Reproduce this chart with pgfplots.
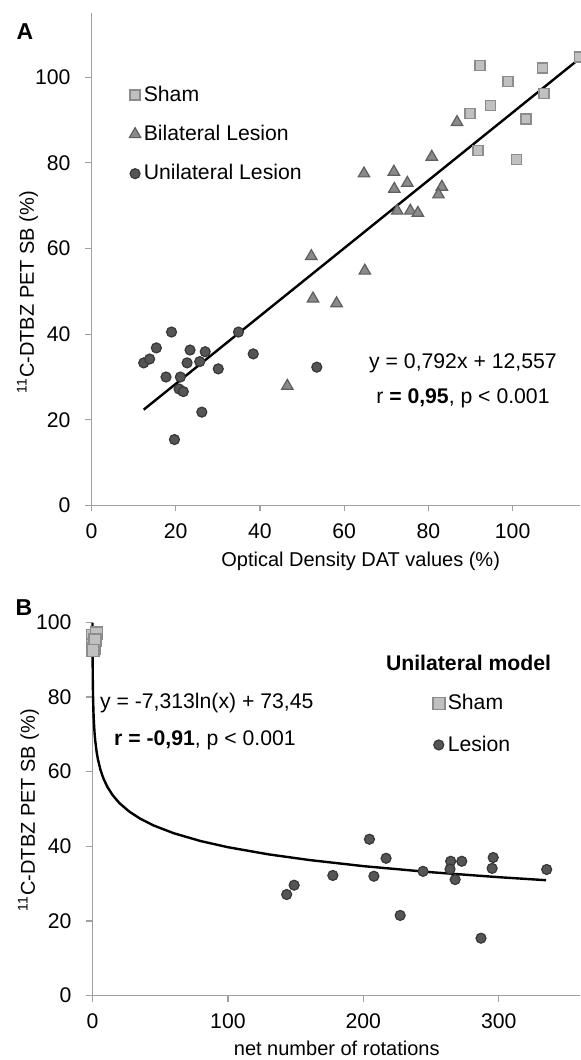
\documentclass[border=0pt]{standalone}
\usepackage{pgfplots}
\pgfplotsset{compat=1.18}
\usepackage{fontspec}
\setmainfont{Liberation Sans}

\definecolor{shamfill}{HTML}{C0C0C0}
\definecolor{shamdraw}{HTML}{8C8C8C}
\definecolor{trifill}{HTML}{8A8A8A}
\definecolor{tridraw}{HTML}{5E5E5E}
\definecolor{circfill}{HTML}{555555}
\definecolor{circdraw}{HTML}{383838}
\definecolor{axisgray}{HTML}{A0A0A0}

\pgfplotsset{
  excel/.style={
    scale only axis,
    clip=false,
    axis x line*=bottom,
    axis y line*=left,
    axis line style={draw=axisgray, line width=0.6pt, -},
    tick align=outside,
    major tick length=3pt,
    tick style={draw=axisgray, line width=0.6pt},
    /pgf/number format/assume math mode=true,
    ticklabel style={font=\fontsize{10.6}{12}\selectfont},
    yticklabel style={xshift=-4pt},
    xticklabel style={yshift=-2.5pt},
    label style={font=\fontsize{10.6}{12}\selectfont},
    legend style={draw=none, fill=none, font=\fontsize{10.6}{12}\selectfont,
      row sep=7.5pt, inner sep=0pt, nodes={inner sep=1.5pt}},
    legend cell align=left,
    legend image code/.code={\draw[mark repeat=2,mark phase=2,##1] plot coordinates {(0cm,0cm)(0.14cm,0cm)(0.28cm,0cm)};},
  },
  sham/.style={only marks, mark=square*, mark size=2.5pt,
    mark options={fill=shamfill, draw=shamdraw, line width=0.8pt}},
  bilat/.style={only marks, mark=triangle*, mark size=3.3pt,
    mark options={fill=trifill, draw=tridraw, line width=0.6pt}},
  unilat/.style={only marks, mark=*, mark size=2.5pt,
    mark options={fill=circfill, draw=circdraw, line width=0.6pt}},
}

\begin{document}
\begin{tikzpicture}
\useasboundingbox (0,0) rectangle (290pt,530pt);

% panel A
\begin{axis}[
  excel,
  at={(45.75pt,277.25pt)}, anchor=south west,
  width=244.25pt, height=246.25pt,
  xmin=0, xmax=116, ymin=0, ymax=115,
  xtick={0,20,40,60,80,100},
  ytick={0,20,40,60,80,100},
  xlabel={Optical Density DAT values (\%)},
  ylabel={\textsuperscript{11}C-DTBZ PET SB (\%)},
  every axis x label/.style={at={(axis description cs:0.551,0)}, yshift=-28pt, anchor=center},
  every axis y label/.style={at={(axis description cs:0,0.433)}, xshift=-32pt, rotate=90, anchor=center},
  legend style={at={(axis cs:8.9,98.8)}, anchor=north west},
]
\addplot[sham] coordinates {
  (92.2,102.7) (115.9,104.7) (107.1,102.1) (98.9,99.0) (107.5,96.2)
  (94.7,93.4) (89.9,91.5) (103.2,90.2) (91.8,82.9) (100.9,80.8)
};
\addlegendentry{Sham}
\addplot[bilat] coordinates {
  (86.8,89.5) (80.8,81.4) (64.7,77.5) (71.8,77.9) (75.0,75.3)
  (71.9,73.9) (83.2,74.4) (82.4,72.6) (72.6,68.8) (75.7,68.8)
  (77.5,68.3) (52.2,58.2) (64.9,54.8) (52.6,48.3) (58.2,47.2)
  (46.5,27.9)
};
\addlegendentry{Bilateral Lesion}
\addplot[unilat] coordinates {
  (12.4,33.3) (13.8,34.2) (15.4,36.8) (19.0,40.5) (17.7,30.0)
  (21.1,30.0) (20.8,27.2) (21.8,26.6) (22.7,33.3) (23.4,36.3)
  (25.7,33.6) (27.0,35.9) (30.1,31.9) (34.9,40.5) (38.4,35.4)
  (26.2,21.8) (19.7,15.4) (53.5,32.3)
};
\addlegendentry{Unilateral Lesion}
\addplot[black, line width=1.2pt, forget plot] coordinates {(12.4,22.38) (116,104.43)};
\node[font=\fontsize{10.6}{12}\selectfont] at (axis cs:88.2,33.2) {y = 0,792x + 12,557};
\node[font=\fontsize{10.6}{12}\selectfont] at (axis cs:88.2,25.1) {r \textbf{= 0,95}, p < 0.001};
\end{axis}

% panel B
\begin{axis}[
  excel,
  at={(46.25pt,32.15pt)}, anchor=south west,
  width=243.75pt, height=186.7pt,
  xmin=0, xmax=360, ymin=0, ymax=100,
  xtick={0,100,200,300},
  ytick={0,20,40,60,80,100},
  xlabel={net number of rotations},
  ylabel={\textsuperscript{11}C-DTBZ PET SB (\%)},
  every axis x label/.style={at={(axis description cs:0.501,0)}, yshift=-26.5pt, anchor=center},
  every axis y label/.style={at={(axis description cs:0,0.497)}, xshift=-32pt, rotate=90, anchor=center},
  legend style={at={(axis cs:251,81.6)}, anchor=north west, row sep=8.5pt},
]
\addplot[sham, mark size=3pt] coordinates {
  (0,96.5) (3,97.2) (0,94.0) (1,93.0) (2,95.2) (0.5,92.4)
};
\addlegendentry{Sham}
\addplot[unilat] coordinates {
  (204.5,41.9) (216.8,36.8) (143.4,27.1) (148.9,29.6) (177.5,32.2)
  (207.8,32.0) (227.2,21.5) (244.1,33.3) (264.5,36.0) (264.0,33.9)
  (267.8,31.1) (272.7,36.0) (286.9,15.4) (295.9,37.0) (295.1,34.1)
  (335.4,33.8)
};
\addlegendentry{Lesion}
\addplot[black, line width=1.2pt, forget plot] coordinates {
  (0.027,99.86) (0.05,95.36) (0.1,90.29) (0.2,85.22) (0.4,80.15)
  (0.7,76.06) (1,73.45) (1.5,70.48) (2,68.38) (3,65.42) (4,63.31)
  (6,60.35) (8,58.24) (11,55.91) (15,53.65) (20,51.54) (27,49.35)
  (35,47.45) (45,45.61) (60,43.51) (80,41.40) (100,39.77) (130,37.85)
  (160,36.34) (200,34.70) (250,33.07) (300,31.74) (335,30.93)
};
\node[font=\fontsize{10.6}{12}\selectfont] at (axis cs:84.4,78.4) {y = -7,313ln(x) + 73,45};
\node[font=\fontsize{10.6}{12}\selectfont] at (axis cs:83,68.5) {\textbf{r = -0,91}, p < 0.001};
\node[font=\bfseries\fontsize{10.6}{12}\selectfont] at (axis cs:277.7,89.2) {Unilateral model};
\end{axis}

\node[font=\bfseries\fontsize{11.5}{13}\selectfont] at (12.5pt,514.25pt) {A};
\node[font=\bfseries\fontsize{11.5}{13}\selectfont] at (12pt,226pt) {B};
\end{tikzpicture}
\end{document}
